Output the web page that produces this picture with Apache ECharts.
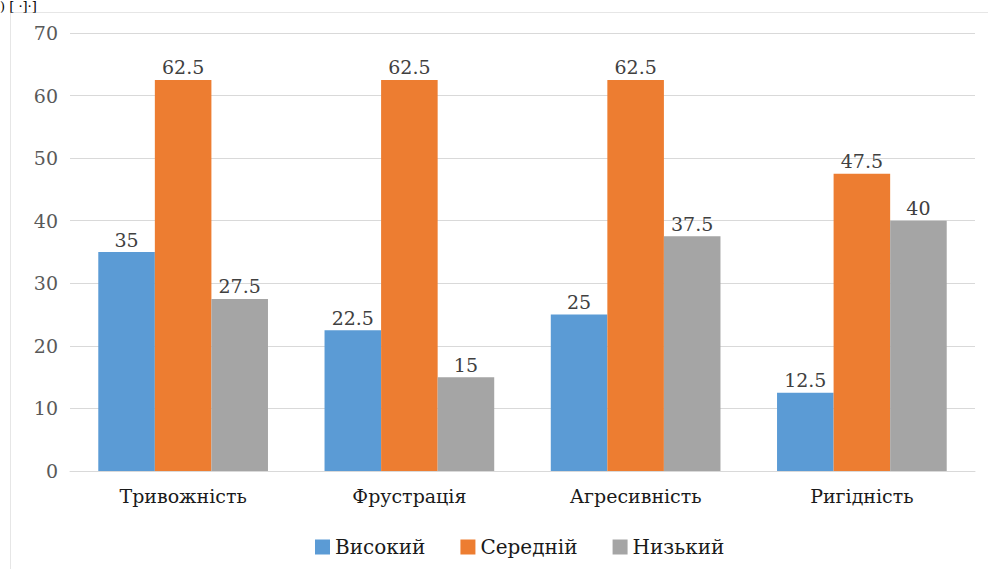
<!DOCTYPE html>
<html>
<head>
<meta charset="utf-8">
<script src="https://cdn.jsdelivr.net/npm/echarts@6/dist/echarts.min.js"></script>
<style>
  html, body { margin: 0; padding: 0; background: #fff; }
  #chart { width: 988px; height: 569px; }
</style>
</head>
<body>
<div id="chart"></div>
<script>
// Levels per emotional state, percent of respondents
const categories = ['Тривожність', 'Фрустрація', 'Агресивність', 'Ригідність'];
const seriesNames = ['Високий', 'Середній', 'Низький'];
const highValues = [35, 22.5, 25, 12.5];
const midValues = [62.5, 62.5, 62.5, 47.5];
const lowValues = [27.5, 15, 37.5, 40];
const yTicks = [0, 10, 20, 30, 40, 50, 60, 70];

const colors = ['#5b9bd5', '#ed7d31', '#a5a5a5'];
const serif = 'DejaVu Serif';

const chart = echarts.init(document.getElementById('chart'), null, { renderer: 'svg' });

function barSeries(name, data, color) {
  return {
    name: name,
    type: 'bar',
    data: data,
    barWidth: '25%',
    barGap: '0%',
    itemStyle: { color: color },
    label: {
      show: true,
      position: 'top',
      distance: 3,
      color: '#404040',
      fontFamily: serif,
      fontSize: 19
    }
  };
}

chart.setOption({
  animation: false,
  color: colors,
  graphic: [
    {
      type: 'rect',
      shape: { x: 10.5, y: 12.5, width: 990, height: 600 },
      style: { fill: 'none', stroke: '#e6e6e6', lineWidth: 1 },
      z: -1
    },
    {
      type: 'text',
      left: 0,
      top: 0,
      style: { text: ') [ ·]·]', fontFamily: serif, fontSize: 13, fill: '#000' }
    }
  ],
  grid: { left: 70, right: 13, top: 33, bottom: 98, containLabel: false },
  legend: {
    data: seriesNames,
    bottom: 7,
    left: 310,
    icon: 'rect',
    itemWidth: 15,
    itemHeight: 15,
    itemGap: 35,
    textStyle: { fontFamily: serif, fontSize: 20, color: '#1a1a1a' }
  },
  xAxis: {
    type: 'category',
    data: categories,
    axisTick: { show: false },
    axisLine: { lineStyle: { color: '#d9d9d9' } },
    axisLabel: { fontFamily: serif, fontSize: 19, color: '#1a1a1a', margin: 15 }
  },
  yAxis: {
    type: 'value',
    min: yTicks[0],
    max: yTicks[yTicks.length - 1],
    interval: 10,
    axisLine: { show: false },
    axisTick: { show: false },
    splitLine: { lineStyle: { color: '#d9d9d9' } },
    axisLabel: { fontFamily: serif, fontSize: 19, color: '#595959', margin: 12 }
  },
  series: [
    barSeries(seriesNames[0], highValues, colors[0]),
    barSeries(seriesNames[1], midValues, colors[1]),
    barSeries(seriesNames[2], lowValues, colors[2])
  ]
});
</script>
</body>
</html>
